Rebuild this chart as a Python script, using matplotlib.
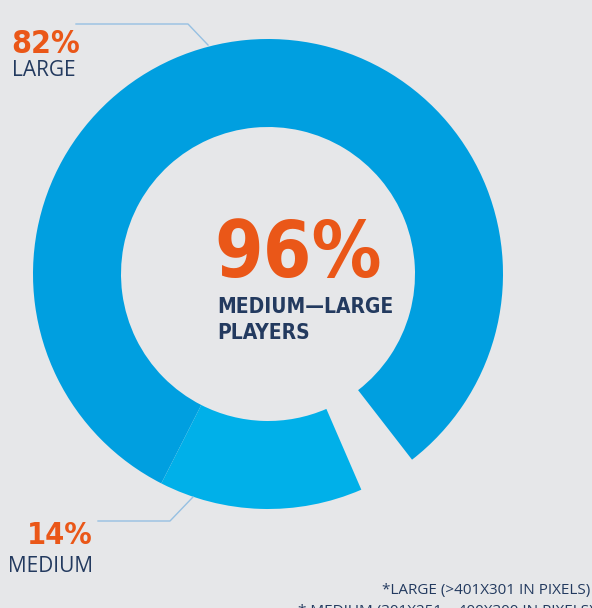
import matplotlib.pyplot as plt

# share of players by size class
sizes = [82, 14, 4]
size_labels = ['LARGE', 'MEDIUM', '']
total_label = '96%'

W, H = 592, 608
bg = '#E6E7E9'
navy = '#233A5F'
orange = '#EA5718'
line_col = '#96C0E2'
narrow = dict(family=['DejaVu Sans'], fontstretch='condensed', fontweight='bold')
plain = dict(family=['Open Sans', 'DejaVu Sans'], fontweight='normal')

fig = plt.figure(figsize=(W / 100, H / 100), dpi=100, facecolor=bg)
ax = fig.add_axes([0, 0, 1, 1])
ax.set_facecolor(bg)

cx, cy = 268, H - 274
wedges, _ = ax.pie(sizes, colors=['#009FE0', '#00B0E9', 'none'],
                   startangle=-52.2, counterclock=True,
                   radius=235, center=(cx, cy),
                   wedgeprops=dict(width=88, linewidth=0))
ax.set_xlim(0, W)
ax.set_ylim(0, H)
ax.set_aspect('equal')
ax.axis('off')

# leader lines
ax.plot([76, 188, 208], [H - 24, H - 24, H - 45], color=line_col, lw=1)
ax.plot([98, 170, 193], [H - 521, H - 521, H - 497], color=line_col, lw=1)

# segment labels
ax.text(11, H - 53, f'{sizes[0]}%', color=orange, fontsize=23,
        ha='left', va='baseline', **narrow)
ax.text(12, H - 76, size_labels[0], color=navy, fontsize=15,
        ha='left', va='baseline', **plain)
ax.text(93, H - 544, f'{sizes[1]}%', color=orange, fontsize=22,
        ha='right', va='baseline', **narrow)
ax.text(93, H - 572, size_labels[1], color=navy, fontsize=15,
        ha='right', va='baseline', **plain)

# centre total
ax.text(214, H - 277, total_label, color=orange, fontsize=56,
        ha='left', va='baseline', **narrow)
ax.text(217, H - 313, 'MEDIUM\u2014LARGE', color=navy, fontsize=15,
        ha='left', va='baseline', **narrow)
ax.text(217, H - 339, 'PLAYERS', color=navy, fontsize=15,
        ha='left', va='baseline', **narrow)

# footnotes
ax.text(590, H - 594, '*LARGE (>401X301 IN PIXELS)', color=navy, fontsize=11,
        ha='right', va='baseline', **plain)
ax.text(594, H - 615, '* MEDIUM (301X251 \u2013 400X300 IN PIXELS)', color=navy,
        fontsize=11, ha='right', va='baseline', **plain)

fig.savefig('out.png', dpi=100, facecolor=bg)
